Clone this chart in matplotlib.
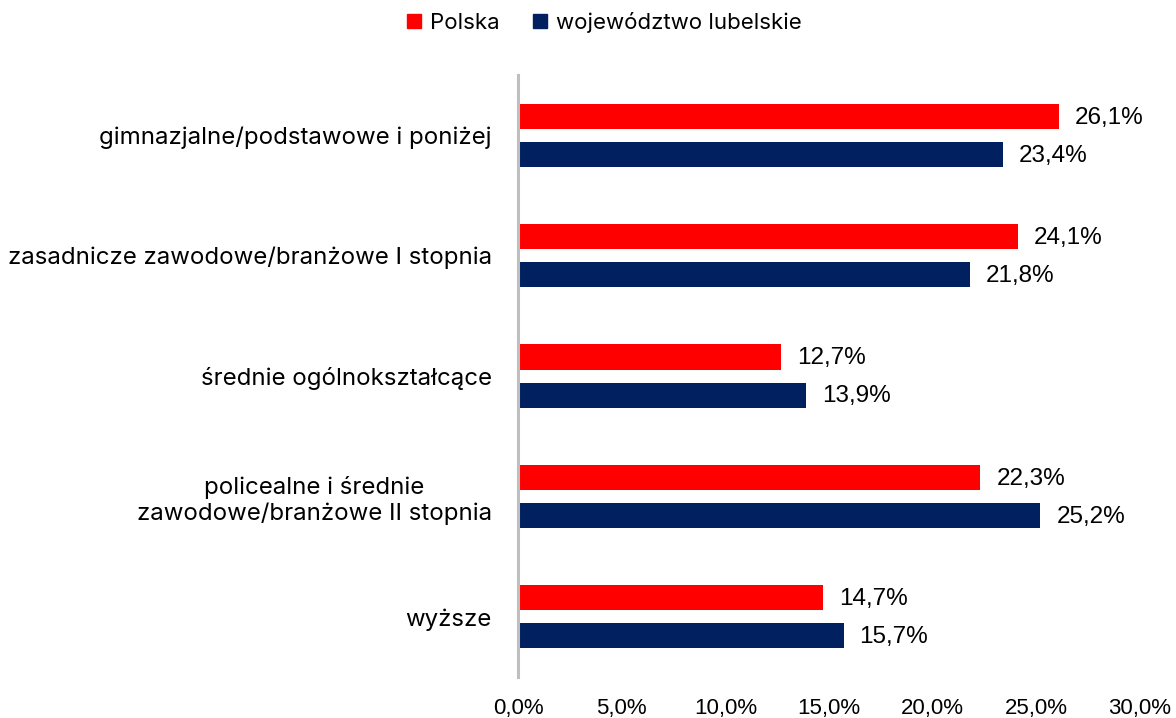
import numpy as np
import matplotlib
matplotlib.use("Agg")
import matplotlib.pyplot as plt
from matplotlib.patches import Patch

categories = [
    "gimnazjalne/podstawowe i poniżej",
    "zasadnicze zawodowe/branżowe I stopnia",
    "średnie ogólnokształcące",
    "policealne i średnie\nzawodowe/branżowe II stopnia",
    "wyższe",
]
polska = [26.1, 24.1, 12.7, 22.3, 14.7]
lubelskie = [23.4, 21.8, 13.9, 25.2, 15.7]
series_names = ["Polska", "województwo lubelskie"]
xticks = [0, 5, 10, 15, 20, 25, 30]

red = "#FF0000"
navy = "#002060"
label_font = "Liberation Sans"
cat_font = "Inter"


def pl_pct(v):
    return "{:.1f}%".format(v).replace(".", ",")


fig = plt.figure(figsize=(11.76, 7.18), dpi=100)
ax = fig.add_axes([0.4405, 0.0571, 0.5289, 0.8384])

y = np.arange(len(categories))
h = 0.208
off = 0.158
b1 = ax.barh(y - off, polska, height=h, color=red)
b2 = ax.barh(y + off, lubelskie, height=h, color=navy)

# etykiety wartosci przy koncach slupkow
for bars, vals in ((b1, polska), (b2, lubelskie)):
    for b, v in zip(bars, vals):
        ax.annotate(pl_pct(v), (b.get_width(), b.get_y() + b.get_height() / 2),
                    xytext=(11.5, -1), textcoords="offset points",
                    ha="left", va="center", fontsize=17.5,
                    family=label_font, color="#000000")

ax.set_xlim(0, 30)
ax.set_ylim(len(categories) - 0.5, -0.5)
ax.set_xticks(xticks)
ax.set_xticklabels([pl_pct(t) for t in xticks], fontsize=16, family=label_font)
ax.tick_params(axis="x", length=0, pad=15)
ax.set_yticks(y)
ax.set_yticklabels(categories, fontsize=17.3, family=cat_font, multialignment="center")
ax.tick_params(axis="y", length=0, pad=19)

for s in ("top", "right", "bottom"):
    ax.spines[s].set_visible(False)
ax.spines["left"].set_color("#BFBFBF")
ax.spines["left"].set_linewidth(2.2)

handles = [Patch(color=red), Patch(color=navy)]
fig.legend(handles, series_names, loc="center", bbox_to_anchor=(0.514, 0.969),
           ncol=2, frameon=False, handlelength=0.64, handleheight=0.64,
           handletextpad=0.4, columnspacing=1.5,
           prop={"family": cat_font, "size": 16})

fig.savefig("out.png", dpi=100)
